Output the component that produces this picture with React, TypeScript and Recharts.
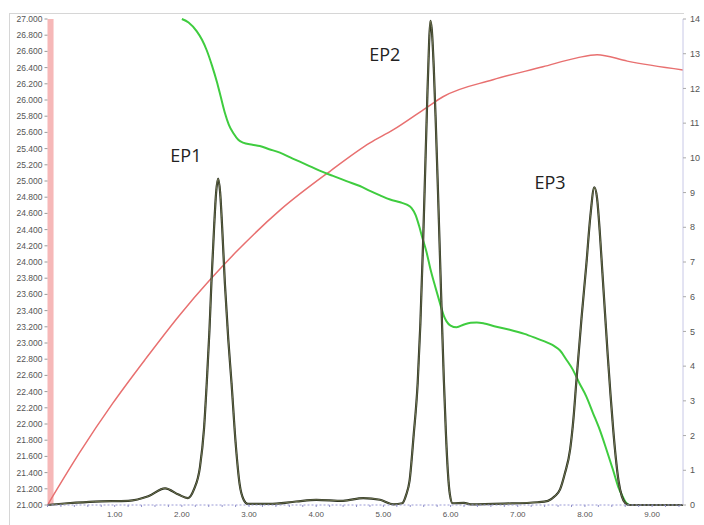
import * as React from "react";
import {
  ComposedChart,
  Line,
  XAxis,
  YAxis,
  ReferenceArea,
  ReferenceDot,
} from "recharts";

// detector signal (right axis, 0-14)
const signalTime = [
  0, 0.3, 0.7, 1.2, 1.5, 1.75, 1.95, 2.09, 2.18, 2.27, 2.33, 2.37, 2.41, 2.44, 2.48, 2.51, 2.54,
  2.57, 2.6, 2.64, 2.69, 2.74, 2.8, 2.86, 2.92, 2.98, 3.3, 3.7, 4.0, 4.4, 4.7, 4.95, 5.15, 5.28,
  5.34, 5.39, 5.45, 5.51, 5.55, 5.59, 5.62, 5.65, 5.68, 5.7, 5.72, 5.75, 5.78, 5.81, 5.84, 5.87,
  5.9, 5.93, 5.96, 5.99, 6.03, 6.2, 6.3, 6.8, 7.3, 7.45, 7.55, 7.63, 7.7, 7.78, 7.83, 7.87, 7.95,
  8.02, 8.08, 8.14, 8.18, 8.22, 8.26, 8.3, 8.34, 8.38, 8.42, 8.46, 8.5, 8.55, 8.6, 8.66, 9.46,
];
const signalValue = [
  0, 0.05, 0.1, 0.12, 0.25, 0.48, 0.3, 0.2, 0.45, 1.1, 2.2, 3.5, 5.0, 6.4, 8.0, 9.0, 9.4,
  9.0, 8.0, 6.4, 4.8, 3.5, 1.8, 0.6, 0.15, 0.03, 0.03, 0.1, 0.15, 0.12, 0.2, 0.15, 0.02, 0.05,
  0.3, 0.7, 2.0, 3.5, 5.2, 7.5, 9.5, 11.5, 13.3, 13.95, 13.7, 12.6, 11.0, 9.2, 7.3, 5.4,
  3.6, 2.1, 0.95, 0.3, 0.05, 0.06, 0.02, 0.04, 0.08, 0.12, 0.25, 0.45, 0.9, 1.6, 2.5, 3.5, 5.4,
  6.9, 8.3, 9.15, 8.85, 7.9, 6.7, 5.5, 4.3, 3.2, 2.2, 1.35, 0.7, 0.25, 0.06, 0, 0,
];

// green trace (right axis)
const greenTime = [
  2.0, 2.1, 2.22, 2.3, 2.37, 2.45, 2.52, 2.58, 2.64, 2.7, 2.77, 2.84, 2.91, 3.05, 3.16, 3.3,
  3.46, 3.65, 3.86, 4.05, 4.25, 4.45, 4.65, 4.8, 4.95, 5.1, 5.25, 5.35, 5.42, 5.48, 5.53, 5.58,
  5.64, 5.7, 5.77, 5.84, 5.9, 5.94, 6.0, 6.09, 6.2, 6.3, 6.39, 6.5, 6.65, 6.88, 7.1, 7.28, 7.45,
  7.55, 7.63, 7.72, 7.82, 7.92, 8.02, 8.12, 8.22, 8.32, 8.42, 8.5, 8.56, 8.62, 8.66,
];
const greenValue = [
  14.0, 13.9, 13.65, 13.4, 13.1, 12.65, 12.2, 11.75, 11.3, 10.95, 10.7, 10.52, 10.44, 10.38,
  10.34, 10.25, 10.15, 9.98, 9.8, 9.63, 9.48, 9.33, 9.19, 9.05, 8.92, 8.8, 8.72, 8.65, 8.55,
  8.35, 8.05, 7.7, 7.3, 6.8, 6.3, 5.83, 5.45, 5.29, 5.17, 5.12, 5.2, 5.25, 5.26, 5.23, 5.15,
  5.05, 4.93, 4.8, 4.67, 4.57, 4.45, 4.2, 3.9, 3.5, 3.13, 2.65, 2.17, 1.6, 1.0, 0.5, 0.25, 0.05, 0,
];

// red trace (left axis, 21-27)
const redTime = [
  0, 0.48, 0.975, 1.466, 1.972, 2.419, 2.791, 3.461, 4.205, 4.8, 5.143, 5.649, 5.887, 6.631,
  7.375, 7.882, 8.18, 8.63, 9.46,
];
const redValue = [
  21.0, 21.65, 22.26, 22.81, 23.35, 23.78, 24.11, 24.64, 25.12, 25.47, 25.63, 25.91, 26.04,
  26.25, 26.41, 26.52, 26.56, 26.48, 26.37,
];

const peakNames = ["EP1", "EP2", "EP3"];
const peakLabelTime = [2.06, 5.02, 7.48];
const peakLabelValue = [10.07, 12.96, 9.3];

const leftTicks = Array.from({ length: 31 }, (_, i) => +(21 + i * 0.2).toFixed(1));
const rightTicks = [0, 1, 2, 3, 4, 5, 6, 7, 8, 9, 10, 11, 12, 13, 14];
const xTicks = Array.from({ length: 48 }, (_, i) => +(i * 0.2).toFixed(1));

const signalData = signalTime.map((t, i) => ({ t, v: signalValue[i] }));
const greenData = greenTime.map((t, i) => ({ t, v: greenValue[i] }));
const redData = redTime.map((t, i) => ({ t, v: redValue[i] }));

const fmtX = (v: number) =>
  v > 0 && Math.abs(v - Math.round(v)) < 1e-6 ? v.toFixed(2) : "";

export default function App() {
  return (
    <div
      style={{
        position: "absolute",
        left: 0,
        top: 0,
        width: 704,
        height: 525,
        background: "#fff",
        fontFamily: "'Liberation Sans', Arial, sans-serif",
      }}
    >
      {/* outer frame */}
      <div style={{ position: "absolute", left: 9, top: 13, width: 675, height: 1, background: "#d6d6d6" }} />
      <div style={{ position: "absolute", left: 9, top: 13, width: 1, height: 512, background: "#d6d6d6" }} />
      <ComposedChart
        width={704}
        height={525}
        margin={{ top: 19, right: 0, bottom: 0, left: 0 }}
        style={{ position: "absolute", left: 0, top: 0 }}
      >
        <XAxis
          dataKey="t"
          type="number"
          domain={[0, 9.46]}
          ticks={xTicks}
          interval={0}
          allowDataOverflow
          height={20}
          tickFormatter={fmtX}
          tickSize={2}
          tickMargin={4}
          tick={{ fontSize: 8, fill: "#555" }}
          tickLine={{ stroke: "#9090c8" }}
          axisLine={{ stroke: "#9a9ad6", strokeDasharray: "2 2" }}
        />
        <YAxis
          yAxisId="left"
          orientation="left"
          type="number"
          domain={[21, 27]}
          ticks={leftTicks}
          interval={0}
          width={47.5}
          tickFormatter={(v: number) => v.toFixed(3)}
          tickSize={3}
          tickMargin={2}
          tick={{ fontSize: 8.5, fill: "#555" }}
          tickLine={{ stroke: "#999" }}
          axisLine={false}
        />
        <YAxis
          yAxisId="right"
          orientation="right"
          type="number"
          domain={[0, 14]}
          ticks={rightTicks}
          interval={0}
          width={21}
          tickSize={3}
          tickMargin={4}
          tick={{ fontSize: 9, fill: "#555" }}
          tickLine={{ stroke: "#aaa" }}
          axisLine={{ stroke: "#c8c8e6" }}
        />
        <ReferenceArea
          yAxisId="left"
          x1={0}
          x2={0.09}
          y1={21}
          y2={27}
          fill="#f6b8b8"
          fillOpacity={1}
          stroke="none"
        />
        <Line
          yAxisId="left"
          data={redData}
          dataKey="v"
          type="monotone"
          stroke="#e87070"
          strokeWidth={1.5}
          dot={false}
          isAnimationActive={false}
        />
        <Line
          yAxisId="right"
          data={greenData}
          dataKey="v"
          type="monotone"
          stroke="#3fcc3f"
          strokeWidth={2}
          dot={false}
          isAnimationActive={false}
        />
        <Line
          yAxisId="right"
          data={signalData}
          dataKey="v"
          type="monotone"
          stroke="#262c1c"
          strokeWidth={2.2}
          dot={false}
          isAnimationActive={false}
        />
        <Line
          yAxisId="right"
          data={signalData}
          dataKey="v"
          type="monotone"
          stroke="#8f9468"
          strokeWidth={0.7}
          dot={false}
          isAnimationActive={false}
        />
        {peakNames.map((name, i) => (
          <ReferenceDot
            key={name}
            yAxisId="right"
            x={peakLabelTime[i]}
            y={peakLabelValue[i]}
            r={0}
            stroke="none"
            label={{
              value: name,
              position: "center",
              fill: "#222",
              fontSize: 18,
              fontFamily: "'Open Sans', sans-serif",
            }}
          />
        ))}
      </ComposedChart>
    </div>
  );
}
